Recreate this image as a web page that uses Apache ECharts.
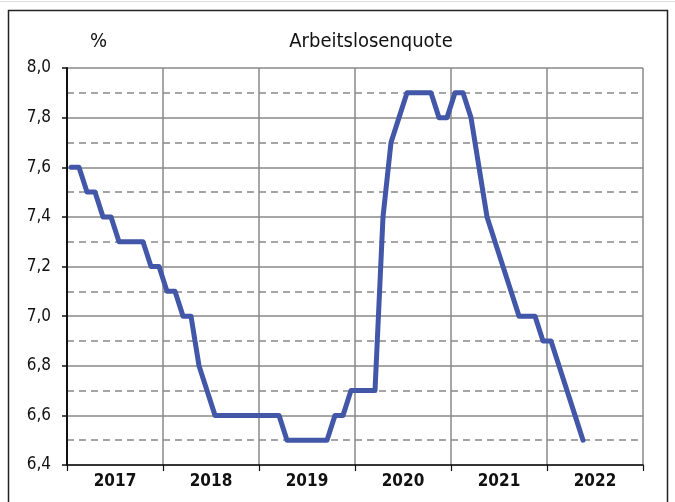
<!DOCTYPE html>
<html lang="de">
<head>
    <meta charset="UTF-8">
    <title>Arbeitslosenquote</title>
    <script src="https://cdn.jsdelivr.net/npm/echarts@6/dist/echarts.min.js"></script>
    <style>
        html, body { margin: 0; padding: 0; background: #fff; }
        #chart { width: 675px; height: 502px; }
    </style>
</head>
<body>
<div id="chart"></div>
<script>
    // Jahre (Achsenbeschriftung) und Monatswerte Jan 2017 - Mai 2022
    var years = ['2017', '2018', '2019', '2020', '2021', '2022'];
    var quote2017 = [7.6, 7.6, 7.5, 7.5, 7.4, 7.4, 7.3, 7.3, 7.3, 7.3, 7.2, 7.2];
    var quote2018 = [7.1, 7.1, 7.0, 7.0, 6.8, 6.7, 6.6, 6.6, 6.6, 6.6, 6.6, 6.6];
    var quote2019 = [6.6, 6.6, 6.6, 6.5, 6.5, 6.5, 6.5, 6.5, 6.5, 6.6, 6.6, 6.7];
    var quote2020 = [6.7, 6.7, 6.7, 7.4, 7.7, 7.8, 7.9, 7.9, 7.9, 7.9, 7.8, 7.8];
    var quote2021 = [7.9, 7.9, 7.8, 7.6, 7.4, 7.3, 7.2, 7.1, 7.0, 7.0, 7.0, 6.9];
    var quote2022 = [6.9, 6.8, 6.7, 6.6, 6.5];
    var yTicks = { min: 6.4, max: 8.0, step: 0.2 };

    var values = [].concat(quote2017, quote2018, quote2019, quote2020, quote2021, quote2022);
    var months = [];
    years.forEach(function (y) {
        for (var m = 1; m <= 12; m++) months.push(y + '-' + m);
    });

    var font = "'Liberation Sans Narrow', 'DejaVu Sans Condensed', Roboto, sans-serif";
    var grey = '#888';

    var myChart = echarts.init(document.getElementById('chart'), null, { renderer: 'canvas' });
    var option = {
        animation: false,
        title: [
            { text: '%', left: 85, top: 27, textStyle: { fontFamily: font, fontSize: 20, fontWeight: 'normal', color: '#111' } },
            { text: 'Arbeitslosenquote', left: 366, top: 27, textAlign: 'center',
              textStyle: { fontFamily: font, fontSize: 20, fontWeight: 'normal', color: '#111' } }
        ],
        graphic: [
            { type: 'rect', shape: { x: 8.5, y: 10.5, width: 659, height: 500 },
              style: { fill: 'none', stroke: '#222', lineWidth: 1.5 }, silent: true },
            { type: 'line', shape: { x1: 0, y1: 1.5, x2: 675, y2: 1.5 },
              style: { stroke: '#ddd', lineWidth: 1 }, silent: true }
        ],
        grid: { left: 67, right: 32, top: 68, bottom: 37, containLabel: false },
        xAxis: [
            { type: 'category', data: months, boundaryGap: true, show: false },
            {
                type: 'category', data: years, boundaryGap: true, position: 'bottom',
                axisLine: { show: true, lineStyle: { color: '#111', width: 1.5 } },
                axisTick: { show: true, length: 6, lineStyle: { color: '#111', width: 1.2 } },
                axisLabel: { margin: 8, fontFamily: font, fontSize: 17, fontWeight: 'bold', color: '#111' },
                splitLine: { show: true, lineStyle: { color: grey, width: 1.5 } }
            }
        ],
        yAxis: {
            type: 'value', min: yTicks.min, max: yTicks.max, interval: yTicks.step,
            axisLine: { show: true, lineStyle: { color: '#111', width: 2 } },
            axisTick: { show: true, length: 5, lineStyle: { color: '#111', width: 1.5 } },
            axisLabel: {
                margin: 16, fontFamily: font, fontSize: 17, color: '#111',
                formatter: function (v) { return v.toFixed(1).replace('.', ','); }
            },
            splitLine: { show: true, lineStyle: { color: grey, width: 1.5 } },
            minorTick: { show: false, splitNumber: 2 },
            minorSplitLine: { show: true, lineStyle: { color: grey, width: 1.5, type: [7, 5] } }
        },
        series: [{
            type: 'line',
            xAxisIndex: 0,
            data: values,
            symbol: 'none',
            lineStyle: { color: '#4257a7', width: 5, join: 'round', cap: 'round' }
        }]
    };
    myChart.setOption(option);
</script>
</body>
</html>
